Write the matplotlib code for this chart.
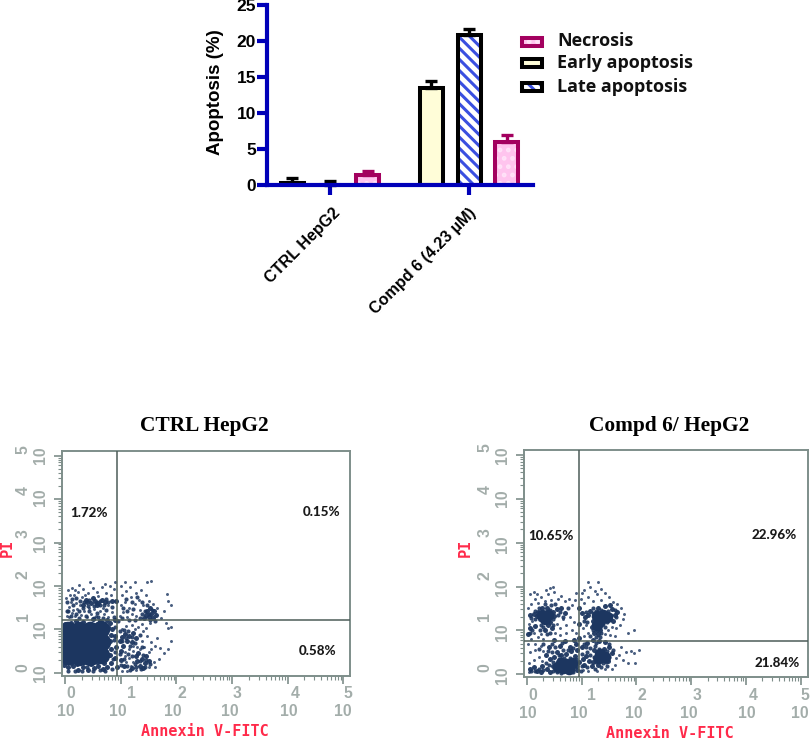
import matplotlib
matplotlib.use("Agg")
import matplotlib.pyplot as plt
from matplotlib.patches import Rectangle
import numpy as np

W, H = 810, 739
# ---------- bar chart data ----------
groups = ["CTRL HepG2", "Compd 6 (4.23 µM)"]
early = [0.3, 13.5]
early_err = [0.7, 0.9]
late = [0.05, 20.8]
late_err = [0.5, 0.8]
necrosis = [1.4, 6.0]
necrosis_err = [0.5, 0.9]
legend_labels = ["Necrosis", "Early apoptosis", "Late apoptosis"]

# ---------- flow cytometry data (log10 units) ----------
ctrl_title = "CTRL HepG2"
drug_title = "Compd 6/ HepG2"
ctrl_pct = ["1.72%", "0.15%", "0.58%"]
drug_pct = ["10.65%", "22.96%", "21.84%"]
ctrl_gate = (0.934, 1.215)
drug_gate = (0.956, 0.752)

ctrl_blob = [(0.05,0.38),(0.25,0.36),(0.45,0.36),(0.65,0.4),(0.05,0.68),(0.25,0.68),(0.45,0.68),(0.67,0.7),
             (0.05,0.98),(0.25,0.98),(0.45,0.98),(0.65,1.0),(0.15,0.53),(0.35,0.53),(0.55,0.53),(0.15,0.83),(0.35,0.83),(0.55,0.83)]
ctrl_medium = [(0.4,1.62),(0.47,1.6),(0.54,1.66),(0.6,1.61),(0.66,1.68),(0.72,1.63),(0.33,1.56),(0.38,1.68),(0.5,1.72),(0.58,1.55),(0.85,1.66),
               (0.92,1.65),(1.48,1.42),(1.55,1.35),(1.6,1.42),(1.5,1.28),(1.58,1.27),(1.63,1.33),(1.45,1.32),(1.42,1.25),(1.53,1.48),
               (1.08,0.9),(1.15,0.85),(1.22,0.92),(1.28,0.8),(1.02,0.82),(1.12,0.72),(1.2,0.7),(1.3,0.28),(1.38,0.32),(1.44,0.22),(1.34,0.16),
               (1.4,0.1),(1.27,0.38),(1.45,0.38),(1.5,0.28),(1.2,0.1),(1.32,0.45),(1.0,0.5),(1.05,0.62),(1.0,0.3),(1.06,0.15),(0.98,0.72),
               (0.05,0.12),(0.14,0.16),(0.24,0.07),(0.33,0.12),(0.42,0.06),(0.52,0.1),(0.6,0.16),(0.68,0.08),(0.76,0.14),(0.82,0.22),(0.84,1.0),
               (0.9,1.22),(0.92,0.6),(0.9,0.85),(0.9,0.35),(0.93,0.12),(0.2,1.2),(0.5,1.23),(0.75,1.22),
               (0.8,0.4),(0.82,0.55),(0.81,0.72),(0.83,0.88),(0.78,1.05),(0.8,1.15),(0.0,0.25),(0.1,0.22),(0.22,0.2),(0.34,0.24),(0.46,0.2),(0.58,0.24),(0.7,0.22),
               (0.1,1.15),(0.32,1.17),(0.62,1.18),(0.0,1.12),(-0.02,0.18)]
ctrl_extra = [(0.06,1.42),(0.14,1.56),(0.25,1.42),(0.32,1.48),(0.42,1.54),(0.52,1.53),(0.63,1.55),(0.7,1.56),(0.78,1.62),(0.34,1.62),(0.44,1.68),(0.56,1.6),
              (0.63,1.65),(0.74,1.7),(0.27,1.66),(0.2,1.72),(0.12,1.7),(0.04,1.62),(0.03,1.42),(0.1,1.3),(0.26,1.26),(0.37,1.3),(0.52,1.26),(0.6,1.28),(0.68,1.26),
              (0.2,1.36),(0.44,1.42),(0.58,1.38),(0.74,1.44),(0.85,1.52),(0.88,1.28),(0.95,1.2),(1.03,1.25),(1.15,1.22),(1.25,1.22),(1.34,1.26),(1.38,1.36),(1.43,1.42),
              (1.5,1.36),(1.56,1.44),(1.52,1.22),(1.62,1.2),(1.47,1.55),(1.1,1.7),(1.2,1.62),(1.3,1.74),(1.38,1.62),(1.04,1.48),(1.12,1.42),(1.22,1.46),
              (0.98,0.95),(1.06,0.98),(1.14,0.95),(1.2,0.82),(1.1,0.8),(1.03,0.72),(1.16,0.62),(1.26,0.68),(1.34,0.88),(1.38,0.6),(0.98,0.42),(1.06,0.32),(1.13,0.42),
              (1.2,0.38),(1.26,0.2),(1.34,0.26),(1.4,0.4),(1.46,0.3),(1.36,0.08),(1.44,0.14),(1.52,0.2),(1.28,0.14),(1.12,0.15),(1.0,0.18),(1.16,0.06),
              (0.06,0.05),(0.18,0.04),(0.3,0.04),(0.4,0.14),(0.5,0.03),(0.62,0.06),(0.72,0.04),(0.84,0.08),(0.86,0.32),(0.9,0.48),(0.88,0.75),(0.9,1.05)]
ctrl_sparse = [(0.03,1.3),(0.12,1.38),(0.07,1.52),(0.18,1.3),(0.22,1.47),(0.02,1.72),(0.1,1.63),(0.16,1.78),(0.05,1.9),(0.13,1.95),
               (0.24,1.86),(0.3,1.75),(0.28,1.33),(0.35,1.42),(0.4,1.28),(0.47,1.36),(0.55,1.31),(0.62,1.43),(0.7,1.35),(0.78,1.28),
               (0.84,1.4),(0.33,1.92),(0.42,1.83),(0.5,1.96),(0.58,1.87),(0.66,1.98),(0.74,1.84),(0.8,2.0),(0.88,1.92),(0.9,2.1),
               (0.72,2.05),(0.45,2.08),(0.25,2.02),(0.15,1.45),(0.08,1.28),(0.2,1.6),(0.27,1.55),(0.43,1.48),(0.52,1.46),(0.68,1.5),
               (0.77,1.55),(0.82,1.78),(0.6,1.76),(0.36,1.8),(0.18,1.9),(0.09,1.8),(0.98,1.3),(1.05,1.4),(1.12,1.28),(1.2,1.36),
               (1.28,1.3),(1.35,1.44),(1.0,1.55),(1.08,1.62),(1.15,1.5),(1.25,1.58),(1.33,1.68),(1.4,1.55),(1.02,1.8),(1.1,1.88),
               (1.18,1.75),(1.27,1.83),(1.36,1.9),(1.45,1.78),(1.0,2.0),(1.07,2.08),(1.16,1.98),(1.25,2.1),(1.47,2.1),(1.55,2.12),
               (1.5,1.65),(1.58,1.58),(1.66,1.5),(1.72,1.25),(1.84,1.82),(1.85,1.65),(1.9,1.55),(1.78,1.42),(1.82,1.15),(1.9,1.05),
               (1.85,1.02),(1.9,0.72),(1.85,0.55),(1.78,0.45),(1.65,0.8),(1.7,0.58),(1.62,0.62),(1.55,0.7),(1.6,0.25),(1.68,0.32),
               (1.62,0.14),(1.5,0.48),(1.55,0.55),(1.42,0.6),(1.38,0.72),(1.48,0.85),(1.4,0.95),(1.32,1.05),(1.2,1.1),(1.1,1.08),
               (1.25,1.0),(1.38,1.12),(1.46,1.02),(1.52,1.15),(1.02,1.0),(1.08,0.48),(1.15,0.55),(1.22,0.5),(1.15,0.35),(1.22,0.25),
               (1.1,0.25),(1.28,0.06),(1.12,0.05),(1.18,0.16),(1.02,0.05),(1.5,0.12),(1.3,0.6),(1.22,0.62),(1.08,0.38),(1.35,0.55)]

drug_blob = [(0.28,1.36),(0.38,1.34),(0.33,1.26),(1.28,1.32),(1.38,1.34),(1.46,1.3),(1.34,1.22),(1.28,1.12),
             (0.62,0.26),(0.72,0.24),(0.82,0.26),(0.66,0.14),(0.76,0.13),(0.56,0.16),(1.32,0.36),(1.42,0.4),(1.34,0.46)]
drug_medium = [(0.05,1.35),(0.12,1.38),(0.18,1.32),(0.2,1.43),(0.24,1.25),(0.48,1.42),(0.55,1.48),(0.5,1.32),(0.62,1.52),(0.7,1.4),(0.36,1.5),(0.28,1.52),
               (0.38,1.12),(0.45,1.05),(0.33,1.0),(0.42,1.18),(0.15,1.1),(0.05,1.05),(0.02,0.92),
               (1.0,1.4),(1.06,1.3),(1.12,1.35),(1.15,1.45),(1.2,1.22),(1.55,1.48),(1.6,1.35),(1.58,1.22),(1.42,1.55),(1.3,1.5),(1.52,1.58),(1.65,1.42),
               (1.27,1.0),(1.33,1.02),(1.22,0.95),(1.3,0.92),(1.37,1.15),(1.18,1.08),
               (0.05,0.12),(0.12,0.16),(0.18,0.08),(0.25,0.05),(0.28,0.18),(0.36,0.12),(0.42,0.06),(0.48,0.18),(0.5,0.4),(0.42,0.35),(0.35,0.44),(0.55,0.5),(0.62,0.44),
               (0.72,0.46),(0.8,0.52),(0.88,0.42),(0.92,0.1),(0.92,0.55),(0.9,0.68),(0.78,0.62),(0.6,0.65),(0.4,0.62),
               (1.02,0.35),(1.08,0.42),(1.14,0.3),(1.2,0.28),(1.25,0.36),(1.05,0.22),(1.18,0.18),(1.3,0.22),(1.28,0.48),(1.22,0.55),(1.4,0.58),(1.5,0.62),(1.55,0.48),(1.48,0.3),
               (1.1,0.72),(1.2,0.78),(1.32,0.76),(1.42,0.74),(1.0,0.62),(0.95,0.28),(0.95,0.82),(0.95,1.15),(0.95,1.5),(0.5,0.78),(0.7,0.76),(0.85,0.78)]
drug_extra = [(0.08,1.28),(0.15,1.25),(0.22,1.52),(0.14,1.45),(0.42,1.47),(0.47,1.25),(0.56,1.36),(0.6,1.42),(0.66,1.3),(0.75,1.5),(0.33,1.6),(0.44,1.58),(0.52,1.6),
              (0.25,1.12),(0.3,1.08),(0.36,0.92),(0.42,0.95),(0.24,1.02),(0.47,1.12),(0.1,1.0),(0.05,0.95),(0.58,0.35),(0.48,0.28),(0.4,0.22),(0.34,0.26),(0.22,0.12),(0.14,0.08),
              (0.08,0.07),(0.3,0.09),(0.48,0.08),(0.54,0.05),(0.62,0.04),(0.74,0.05),(0.84,0.06),(0.88,0.16),(0.92,0.2),(0.9,0.34),(0.68,0.36),(0.78,0.38),(0.58,0.44),(0.46,0.5),
              (0.38,0.54),(0.52,0.62),(0.66,0.55),(0.74,0.56),(0.84,0.6),(0.3,0.68),(0.22,0.58),(0.64,0.72),(0.45,0.7),
              (1.04,1.22),(1.1,1.18),(1.08,1.42),(1.2,1.4),(1.2,1.52),(1.26,1.44),(1.36,1.46),(1.48,1.44),(1.54,1.36),(1.52,1.26),(1.62,1.3),(1.6,1.46),(1.46,1.18),(1.42,1.08),
              (1.22,1.14),(1.2,1.02),(1.36,0.95),(1.26,0.86),(1.16,0.88),(1.34,0.86),
              (1.0,0.46),(1.1,0.5),(1.16,0.44),(1.22,0.4),(1.26,0.28),(1.38,0.26),(1.44,0.28),(1.5,0.4),(1.46,0.54),(1.38,0.52),(1.32,0.58),(1.24,0.64),(1.16,0.6),(1.08,0.62),(1.46,0.2),
              (1.36,0.16),(1.24,0.12),(1.1,0.16),(1.0,0.2),(0.98,0.08),(1.5,0.7),(1.58,0.56),(1.26,0.72),(1.04,0.7)]
drug_sparse = [(0.02,1.5),(0.08,1.6),(0.14,1.72),(0.06,1.82),(0.12,1.88),(0.04,1.15),(0.1,1.22),(0.2,1.62),(0.26,1.75),(0.18,1.84),
               (0.32,1.68),(0.38,1.82),(0.44,1.7),(0.5,1.88),(0.56,1.72),(0.42,1.96),(0.34,1.92),(0.47,2.0),(0.62,1.78),(0.7,1.66),
               (0.76,1.72),(0.82,1.58),(0.88,1.7),(0.9,1.85),(0.78,1.3),(0.85,1.2),(0.65,1.25),(0.72,1.12),(0.6,1.05),(0.55,1.15),
               (0.52,0.95),(0.6,0.9),(0.72,0.95),(0.82,1.02),(0.9,0.95),(0.25,0.92),(0.12,0.95),(0.2,0.85),(0.3,0.8),(0.08,0.8),
               (0.02,0.7),(0.14,0.68),(0.25,0.65),(0.3,0.52),(0.15,0.55),(0.06,0.5),(0.22,0.4),(0.12,0.32),(0.03,0.25),(0.28,0.3),
               (0.03,0.05),(0.98,1.72),(1.05,1.62),(1.12,1.75),(1.2,1.68),(1.27,1.82),(1.35,1.7),(1.42,1.85),(1.5,1.75),(1.58,1.65),
               (1.65,1.6),(1.72,1.5),(1.78,1.38),(1.75,1.25),(1.7,1.12),(1.62,1.05),(1.55,1.08),(1.48,1.0),(1.42,0.92),(1.52,0.9),
               (1.6,0.88),(1.05,1.92),(1.15,1.98),(1.25,1.9),(1.35,1.95),(1.12,2.1),(1.3,2.1),(1.0,1.85),(1.08,1.12),(1.12,0.95),
               (1.02,1.05),(1.05,0.88),(1.85,0.95),(1.95,1.0),(2.05,0.55),(1.9,0.52),(1.95,0.48),(1.8,0.5),(1.72,0.62),(1.68,0.45),
               (1.62,0.38),(1.6,0.22),(1.55,0.12),(1.42,0.12),(1.28,0.08),(1.12,0.08),(1.02,0.1),(1.75,0.32),(1.85,0.25),(1.98,0.26)]

# ---------- helpers ----------
fig = plt.figure(figsize=(W/100, H/100), dpi=100, facecolor="white")
def axes_px(l, t, r, b):
    return fig.add_axes([l/W, 1-b/H, (r-l)/W, (b-t)/H])
def text_px(x, y, s, **kw):
    kw.setdefault("ha", "center"); kw.setdefault("va", "center")
    fig.text(x/W, 1-y/H, s, **kw)

# ---------- bar chart ----------
BLUE = "#0000b8"; MAG = "#a3005f"; PINK = "#ffc4ee"; CREAM = "#fffdd8"; HATCH_BLUE = "#3a4fe0"
ax = axes_px(267, 5, 533, 185)
ax.set_xlim(-0.453, 1.46); ax.set_ylim(0, 25)
ax.patch.set_alpha(0)
plt.rcParams["hatch.linewidth"] = 2.2
offs = 0.272; bw = 0.165; lw = 2.9
xpos = np.arange(len(groups))
def bars(x, vals, errs, fc, ec, hatch=None, hcol=None):
    if hatch:
        ax.bar(x, vals, bw, facecolor=fc, edgecolor=hcol, hatch=hatch, linewidth=0, zorder=2)
        ax.bar(x, vals, bw, facecolor="none", edgecolor=ec, linewidth=lw, zorder=3)
    else:
        ax.bar(x, vals, bw, facecolor=fc, edgecolor=ec, linewidth=lw, zorder=3)
    ax.errorbar(x, vals, yerr=[[0]*len(vals), errs], fmt="none", ecolor=ec, elinewidth=2.4, capsize=4.6, capthick=2.4, zorder=3, clip_on=False)
bars(xpos-offs, early, early_err, CREAM, "black")
bars(xpos, late, late_err, "white", "black", "\\\\\\", HATCH_BLUE)
bars(xpos+offs, necrosis, necrosis_err, PINK, MAG, "..", "#ffe2f8")
for sp in ("top", "right"):
    ax.spines[sp].set_visible(False)
for sp in ("left", "bottom"):
    ax.spines[sp].set_linewidth(3.0); ax.spines[sp].set_color(BLUE); ax.spines[sp].set_zorder(5)
ax.set_yticks([0, 5, 10, 15, 20, 25])
ax.set_xticks(xpos); ax.set_xticklabels([])
ax.tick_params(axis="both", color=BLUE, width=3.0, length=7, zorder=5)
ax.tick_params(axis="y", labelsize=12.5, pad=1)
for t in ax.get_yticklabels():
    t.set_fontfamily("Liberation Sans"); t.set_fontweight("bold")
BOLD = dict(family="Liberation Sans", weight="bold")
text_px(215, 92, "Apoptosis (%)", rotation=90, fontsize=13.5, **BOLD)
for (xr, yr), s in zip([(332, 205), (468, 205)], groups):
    fig.text(xr/W, 1-yr/H, s, rotation=45, ha="right", va="top", rotation_mode="anchor", fontsize=11.6, **BOLD)

# legend
sw_y = [41.5, 62.5, 87]
styles = [(PINK, MAG, "..", "#ffe2f8"), (CREAM, "black", None, None), ("white", "black", "\\\\\\", HATCH_BLUE)]
for y, (fc, ec, h, hc), lab in zip(sw_y, styles, legend_labels):
    rect = [522/W, 1-(y+4)/H, 20/W, 8/H]
    if h:
        fig.add_artist(Rectangle(rect[:2], rect[2], rect[3], transform=fig.transFigure, facecolor=fc, edgecolor=hc, hatch=h, linewidth=0))
        fig.add_artist(Rectangle(rect[:2], rect[2], rect[3], transform=fig.transFigure, facecolor="none", edgecolor=ec, linewidth=2.9))
    else:
        fig.add_artist(Rectangle(rect[:2], rect[2], rect[3], transform=fig.transFigure, facecolor=fc, edgecolor=ec, linewidth=2.9))
    text_px(557, y, lab, ha="left", fontsize=13, family="Open Sans", weight="bold", color="#111111")

# ---------- flow panels ----------
GRAY = "#7e8e8a"; LBL = "#a3adaa"; DOT = "#1c3660"
def flow(box, x0, x1, y0, y1, gate, blob, blob_s, med, extra, sparse, title, tx, pct, pct_xy, xl, yl, pi_x, ann_xy,
         x_exp, x_ten, y_exp, y_ten):
    l, t, r, b = box
    a = axes_px(l, t, r, b)
    a.set_xlim((l-x0)/x1, (r-x0)/x1)
    a.set_ylim((y0-b)/y1, (y0-t)/y1)
    for pts, s, al in ((blob, blob_s, 1), (med, 13, 0.95), (extra, 9, 0.9), (sparse, 4.6, 0.8)):
        p = np.array(pts)
        a.scatter(p[:, 0], p[:, 1], s=s, c=DOT, marker="o", linewidths=0, alpha=al, zorder=2)
    a.axvline(gate[0], color="#4d5c59", lw=1.1, zorder=3)
    a.axhline(gate[1], color="#4d5c59", lw=1.1, zorder=3)
    for sp in a.spines.values():
        sp.set_color(GRAY); sp.set_linewidth(1.4)
    maj = np.arange(6)
    minor = np.array([k + np.log10(m) for k in range(5) for m in range(2, 10)])
    a.set_xticks(maj); a.set_yticks(maj); a.set_xticklabels([]); a.set_yticklabels([])
    a.set_xticks(minor, minor=True); a.set_yticks(minor, minor=True)
    a.tick_params(which="major", length=6, width=1.2, color=GRAY)
    a.tick_params(which="minor", length=3, width=0.8, color=GRAY)
    text_px(tx, 426, title, family="Liberation Serif", weight="bold", fontsize=15.4)
    for (px, py), s in zip(pct_xy, pct):
        text_px(px, py, s, family="Lato", weight="black", fontsize=9.6, color="#1a1a1a")
    lab = dict(family="Liberation Sans", fontsize=11.3, color=LBL, weight="bold")
    for i in range(6):
        text_px(x_exp[i], xl[0], str(i), **lab)
        text_px(x_ten[i], xl[1], "10", **lab)
        text_px(yl[0], y_exp[i], str(i), rotation=90, **lab)
        text_px(yl[1], y_ten[i], "10", rotation=90, **lab)
    mono = dict(family="DejaVu Sans Mono", weight="bold", color="#ff2a4a")
    text_px(pi_x, 547.5, "PI", rotation=90, fontsize=11, **mono)
    text_px(ann_xy[0], ann_xy[1], "Annexin V-FITC", fontsize=10.9, **mono)

flow((62.3, 450.7, 350, 675.7), 65, 55.67, 672.7, 43.4, ctrl_gate, ctrl_blob, 160, ctrl_medium, ctrl_extra, ctrl_sparse,
     ctrl_title, 204, ctrl_pct, [(89, 513), (322, 512), (318, 651)], (694, 711), (23.3, 40.7), 7, (205, 732),
     [71, 131, 182, 237, 295, 348], [66, 118, 173, 230, 289, 343],
     [668, 617, 575, 534, 491, 450], [673, 629, 587, 543, 497, 455])
flow((524.3, 450, 807.7, 676.7), 527, 54.74, 674.3, 43.9, drug_gate, drug_blob, 70, drug_medium, drug_extra, drug_sparse,
     drug_title, 669, drug_pct, [(551, 536), (774, 535), (777, 663)], (695, 713), (485, 502), 465, (670, 733),
     [533, 591, 642, 697, 753, 805], [528, 579, 634, 689, 747, 800],
     [668, 617, 576, 533, 490, 448], [675, 632, 587, 544, 498, 455])

fig.savefig("out.png", dpi=100, facecolor="white")
